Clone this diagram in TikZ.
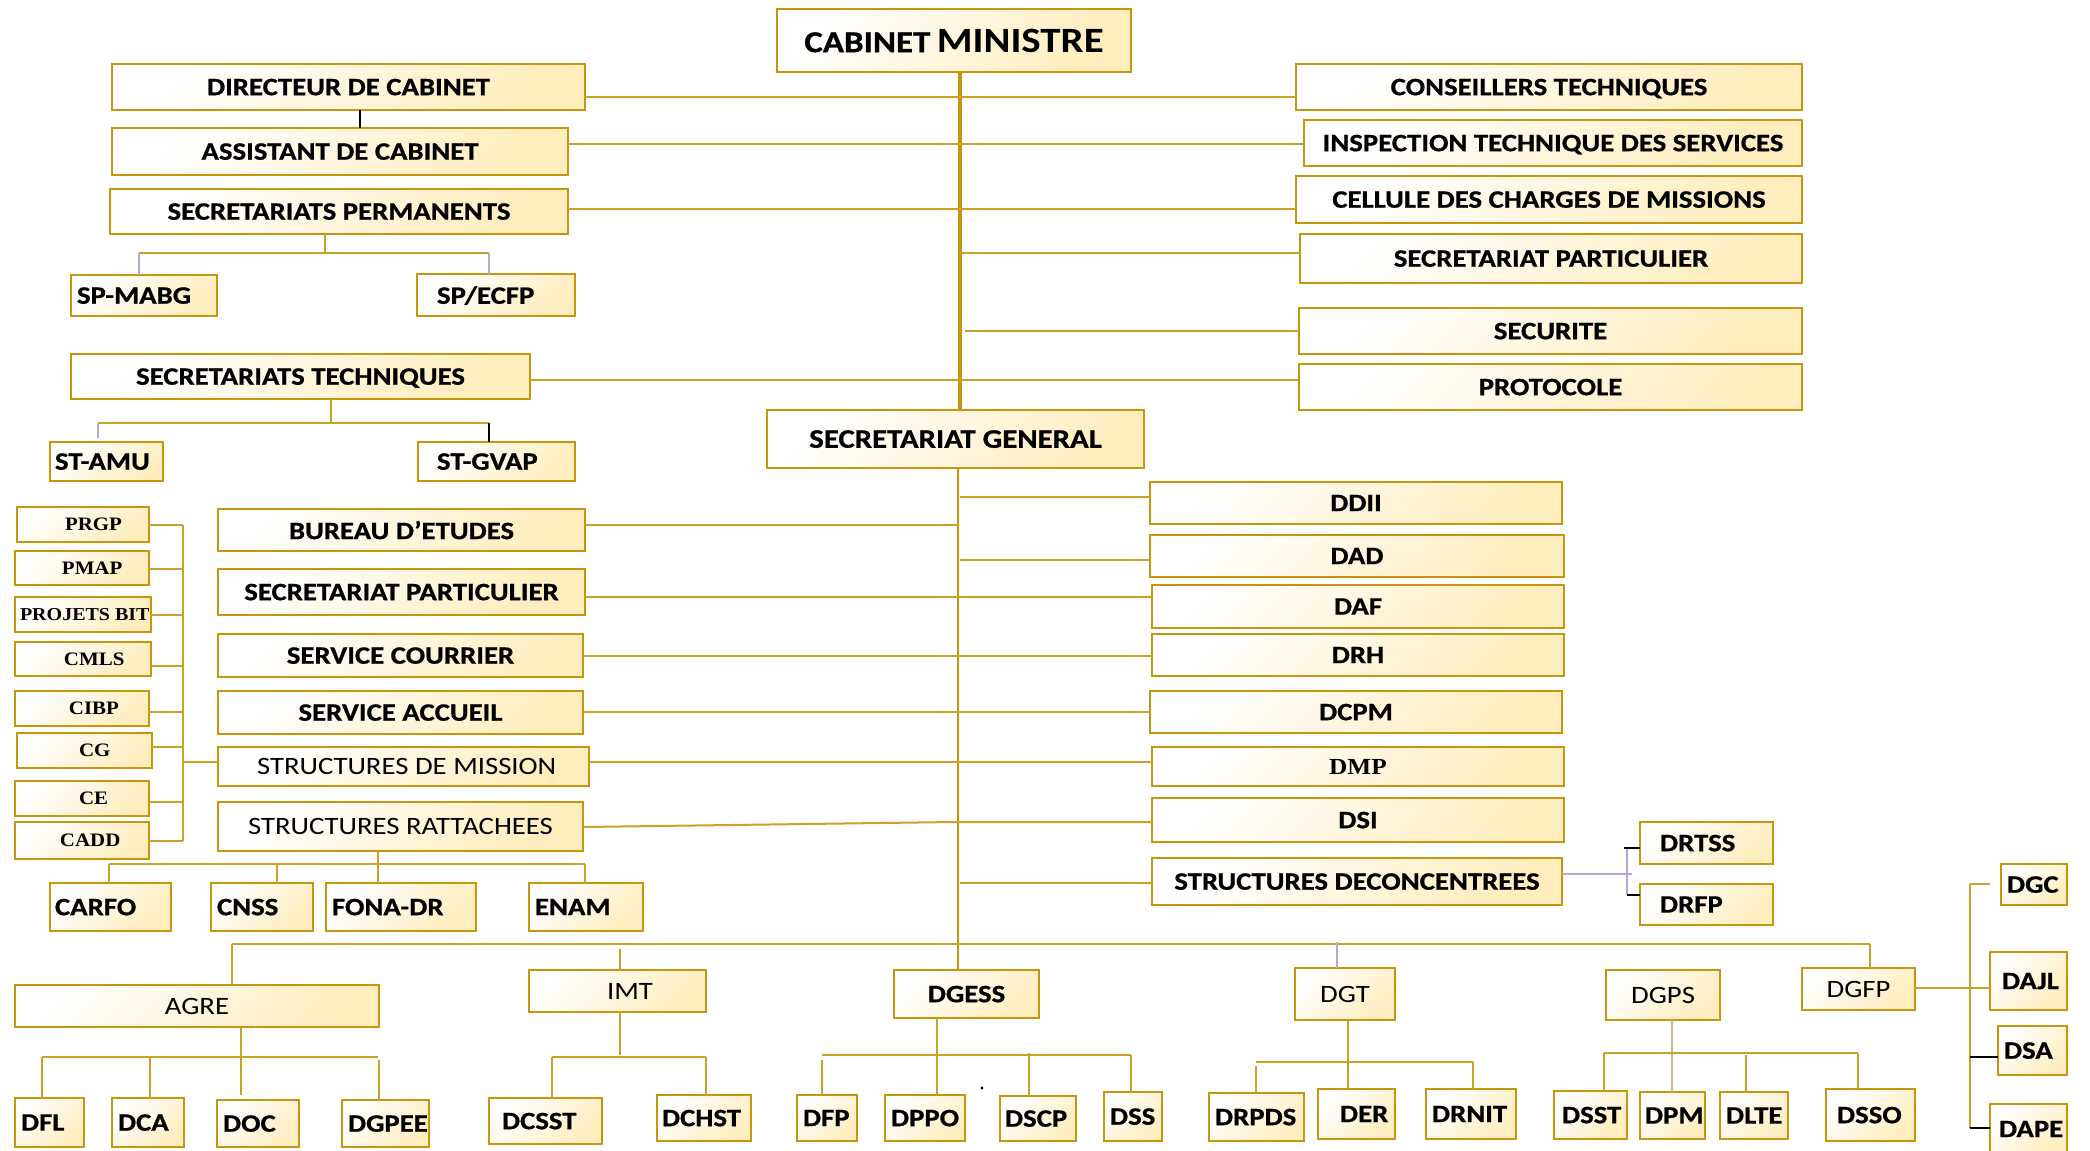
\documentclass[tikz,border=0pt]{standalone}
\usepackage{fontspec}
\usepackage{graphicx}
\newfontfamily\carB{Carlito}[FakeStretch=1.15,BoldFeatures={FakeBold=0.8}]
\newfontfamily\carM{Carlito}[FakeStretch=1.15]
\newfontfamily\serB{Liberation Serif}[FakeStretch=1.1]
\newcommand\fsz[1]{\fontsize{#1}{#1}\selectfont}
\definecolor{boxgold}{HTML}{C8960C}
\definecolor{lgold}{HTML}{C9A227}
\definecolor{boxfill}{HTML}{FFEDBE}
\definecolor{lav}{HTML}{B8A6D6}
\definecolor{tan}{HTML}{CDB98E}
\tikzset{
  box/.style={draw=boxgold, line width=1.15pt, left color=white, right color=boxfill, shading angle=45,
    inner sep=0pt, outer sep=0pt, font=\carB\bfseries\fsz{12.5}, text=black, text depth=0pt},
  regf/.style={font=\carB\mdseries\fsz{12.5}},
  serf/.style={font=\serB\bfseries\fsz{9.5}},
  ln/.style={draw=lgold, line width=1pt},
  lnA/.style={draw=lgold, line width=1.25pt},
  trunkA/.style={draw=boxgold, line width=2pt},
  trunkB/.style={draw=boxgold, line width=1.4pt},
  lavl/.style={draw=lav, line width=0.8pt},
  tanl/.style={draw=tan, line width=0.8pt},
  blk/.style={draw=black, line width=0.8pt},
}
% centred text box: [opts]{x1}{y1}{x2}{y2}{name}{text}
\newcommand\bx[7][]{%
  \pgfmathsetmacro\bxw{(#4-#2)*0.5}%
  \pgfmathsetmacro\bxh{(#5-#3)*0.5}%
  \node[box,minimum width=\bxw pt,minimum height=\bxh pt,#1] (#6) at ({(#2+#4)/2},{(#3+#5)/2}) {\makebox[0pt]{#7}};}
% text starting at x = textx: [opts]{x1}{y1}{x2}{y2}{name}{textx}{text}
\newcommand\bxl[8][]{%
  \pgfmathsetmacro\bxw{(#4-#2)*0.5}%
  \pgfmathsetmacro\bxh{(#5-#3)*0.5}%
  \pgfmathsetmacro\bxo{(#7-(#2+#4)/2)*0.5}%
  \node[box,minimum width=\bxw pt,minimum height=\bxh pt,#1] (#6) at ({(#2+#4)/2},{(#3+#5)/2}) {\makebox[0pt][l]{\hspace*{\bxo pt}#8}};}
\begin{document}
\begin{tikzpicture}[x=0.5pt,y=-0.5pt]
\useasboundingbox (0,0) rectangle (2090,1151);
\clip (0,0) rectangle (2090,1151);
\fill[white] (0,0) rectangle (2090,1151);

% ---------- top part ----------
\bx{777}{9}{1131}{72}{cab}{{\fsz{15.2}CABINET} {\carM\bfseries\fsz{17.8}MINISTRE}}
\bx{112}{64}{585}{110}{dir}{DIRECTEUR DE CABINET}
\bx{112}{128}{568}{175}{asst}{ASSISTANT DE CABINET}
\bx{110}{189}{568}{234}{sperm}{SECRETARIATS PERMANENTS}
\bxl{71}{275}{217}{316}{spmabg}{77}{SP-MABG}
\bxl{417}{274}{575}{316}{specfp}{437}{SP/ECFP}
\bx{71}{354}{530}{399}{stech}{SECRETARIATS TECHNIQUES}
\bxl{50}{442}{163}{481}{stamu}{55}{ST-AMU}
\bxl{418}{442}{575}{481}{stgvap}{437}{ST-GVAP}
\bx[font=\carB\bfseries\fsz{13.4}]{767}{410}{1144}{468}{sg}{SECRETARIAT GENERAL}
\bx{1296}{64}{1802}{110}{cons}{CONSEILLERS TECHNIQUES}
\bx{1304}{120}{1802}{166}{insp}{INSPECTION TECHNIQUE DES SERVICES}
\bx{1296}{176}{1802}{223}{cell}{CELLULE DES CHARGES DE MISSIONS}
\bx{1300}{234}{1802}{283}{spart}{SECRETARIAT PARTICULIER}
\bx{1299}{308}{1802}{354}{secu}{SECURITE}
\bx{1299}{364}{1802}{410}{prot}{PROTOCOLE}

% ---------- left column ----------
\bxl[serf]{17}{507}{149}{542}{prgp}{65}{PRGP}
\bxl[serf]{15}{551}{149}{585}{pmap}{62}{PMAP}
\bxl[serf,font=\serB\bfseries\fsz{9.1}]{15}{597}{151}{632}{projets}{20}{PROJETS BIT}
\bxl[serf]{15}{642}{151}{676}{cmls}{64}{CMLS}
\bxl[serf]{15}{691}{149}{726}{cibp}{69}{CIBP}
\bxl[serf]{17}{733}{152}{768}{cg}{79}{CG}
\bxl[serf]{15}{781}{149}{816}{ce}{79}{CE}
\bxl[serf]{15}{822}{149}{859}{cadd}{60}{CADD}
\bx{218}{509}{585}{551}{bureau}{BUREAU D’ETUDES}
\bx{218}{569}{585}{615}{spart2}{SECRETARIAT PARTICULIER}
\bx{218}{634}{583}{677}{courrier}{SERVICE COURRIER}
\bx{218}{691}{583}{734}{accueil}{SERVICE ACCUEIL}
\bxl[regf]{218}{747}{589}{786}{smission}{257}{STRUCTURES DE MISSION}
\bx[regf]{218}{802}{583}{851}{sratt}{STRUCTURES RATTACHEES}
\bxl{50}{883}{171}{931}{carfo}{55}{CARFO}
\bxl{211}{883}{313}{931}{cnss}{217}{CNSS}
\bxl{326}{883}{476}{931}{fona}{332}{FONA-DR}
\bxl{529}{883}{643}{931}{enam}{535}{ENAM}

% ---------- right column ----------
\bx{1150}{482}{1562}{524}{ddii}{DDII}
\bx{1150}{535}{1564}{577}{dad}{DAD}
\bx{1152}{585}{1564}{628}{daf}{DAF}
\bx{1152}{634}{1564}{676}{drh}{DRH}
\bx{1150}{691}{1562}{733}{dcpm}{DCPM}
\bx[font=\serB\bfseries\fsz{11.5}]{1152}{747}{1564}{786}{dmp}{DMP}
\bx{1152}{798}{1564}{842}{dsi}{DSI}
\bx{1152}{858}{1562}{905}{sdec}{STRUCTURES DECONCENTREES}
\bxl{1640}{822}{1773}{864}{drtss}{1660}{DRTSS}
\bxl{1640}{884}{1773}{925}{drfp}{1660}{DRFP}

% ---------- bottom ----------
\bx[regf]{15}{985}{379}{1027}{agre}{AGRE}
\bxl[regf]{529}{970}{706}{1012}{imt}{607}{IMT}
\bx{894}{970}{1039}{1018}{dgess}{DGESS}
\bx[regf]{1295}{968}{1395}{1020}{dgt}{DGT}
\bx[regf]{1606}{970}{1720}{1020}{dgps}{DGPS}
\bx[regf]{1802}{968}{1915}{1010}{dgfp}{DGFP}
\bxl{15}{1098}{84}{1147}{dfl}{21}{DFL}
\bxl{112}{1098}{184}{1147}{dca}{118}{DCA}
\bxl{217}{1100}{299}{1147}{doc}{223}{DOC}
\bxl{342}{1100}{429}{1147}{dgpee}{348}{DGPEE}
\bxl{489}{1098}{602}{1144}{dcsst}{502}{DCSST}
\bxl{657}{1095}{751}{1141}{dchst}{662}{DCHST}
\bxl{797}{1095}{857}{1141}{dfp}{803}{DFP}
\bxl{885}{1095}{965}{1141}{dppo}{891}{DPPO}
\bxl{1000}{1096}{1076}{1141}{dscp}{1005}{DSCP}
\bxl{1104}{1092}{1162}{1141}{dss}{1110}{DSS}
\bxl{1209}{1093}{1304}{1141}{drpds}{1215}{DRPDS}
\bxl{1318}{1089}{1395}{1139}{der}{1340}{DER}
\bxl{1426}{1089}{1516}{1139}{drnit}{1432}{DRNIT}
\bxl{1554}{1091}{1627}{1139}{dsst}{1562}{DSST}
\bxl{1640}{1092}{1705}{1139}{dpm}{1645}{DPM}
\bxl{1720}{1092}{1788}{1139}{dlte}{1726}{DLTE}
\bxl{1826}{1089}{1915}{1141}{dsso}{1837}{DSSO}
\bxl{2001}{864}{2067}{905}{dgc}{2007}{DGC}
\bxl{1990}{952}{2067}{1010}{dajl}{2002}{DAJL}
\bxl{1998}{1026}{2067}{1075}{dsa}{2004}{DSA}
\bxl{1990}{1104}{2067}{1154}{dape}{1999}{DAPE}

% ---------- connectors: upper ----------
\coordinate (tx) at (960,0);
\coordinate (tl) at (958,0);
\draw[trunkA] (cab.south -| tx) -- (sg.north -| tx);
\draw[blk] (dir.south -| 360,0) -- (asst.north -| 360,0);
\draw[lnA] (dir.east |- 0,97) -- (cons.west |- 0,97);
\draw[lnA] (asst.east |- 0,144) -- (insp.west |- 0,144);
\draw[lnA] (sperm.east |- 0,209) -- (cell.west |- 0,209);
\draw[lnA] (tx |- 0,253) -- (spart.west |- 0,253);
\coordinate (secA) at (965,331);
\draw[lnA] (secA) -- (secu.west |- secA);
\draw[lnA] (stech.east |- 0,380) -- (prot.west |- 0,380);
\draw[ln] (sperm.south -| 325,0) -- (325,253);
\draw[ln] (139,253) -- (489,253);
\draw[lavl] (139,253) -- (spmabg.north -| 139,0);
\draw[lavl] (489,253) -- (specfp.north -| 489,0);
\draw[ln] (stech.south -| 331,0) -- (331,423);
\draw[ln] (98,423) -- (489,423);
\draw[lavl] (98,423) -- (98,438);
\draw[blk] (489,423) -- (stgvap.north -| 489,0);

% ---------- connectors: middle ----------
\draw[trunkB] (sg.south -| tl) -- (dgess.north -| tl);
\draw[ln] (tx |- 0,497) -- (ddii.west |- 0,497);
\draw[ln] (bureau.east |- 0,525) -- (tl |- 0,525);
\draw[ln] (tx |- 0,560) -- (dad.west |- 0,560);
\draw[ln] (spart2.east |- 0,597) -- (daf.west |- 0,597);
\draw[ln] (courrier.east |- 0,656) -- (drh.west |- 0,656);
\draw[ln] (accueil.east |- 0,712) -- (dcpm.west |- 0,712);
\draw[ln] (smission.east |- 0,762) -- (dmp.west |- 0,762);
\draw[ln] (sratt.east |- 0,827) -- (955,822) -- (dsi.west |- 0,822);
\draw[ln] (tx |- 0,883) -- (sdec.west |- 0,883);
\draw[lavl] (sdec.east |- 0,874) -- (1632,874);
\draw[lavl] (1627,848) -- (1627,895);
\draw[blk] (1624,848) -- (drtss.west |- 0,848);
\draw[blk] (1627,895) -- (drfp.west |- 0,895);

% left bracket
\draw[ln] (183,525) -- (183,841);
\foreach \n/\yy in {prgp/525,pmap/569,projets/615,cmls/666,cibp/712,cg/747,ce/802,cadd/841}
  \draw[ln] (\n.east |- 0,\yy) -- (183,\yy);
\draw[ln] (183,762) -- (smission.west |- 0,762);

% structures rattachees
\draw[ln] (sratt.south -| 378,0) -- (378,864);
\draw[ln] (109,864) -- (585,864);
\draw[ln] (109,864) -- (carfo.north -| 109,0);
\draw[ln] (277,864) -- (cnss.north -| 277,0);
\draw[ln] (378,864) -- (fona.north -| 378,0);
\draw[ln] (585,864) -- (enam.north -| 585,0);

% ---------- connectors: bottom ----------
\draw[ln] (232,944) -- (1870,944);
\draw[ln] (232,944) -- (agre.north -| 232,0);
\draw[ln] (620,949) -- (imt.north -| 620,0);
\draw[lavl] (1337,942) -- (dgt.north -| 1337,0);
\draw[ln] (1870,944) -- (dgfp.north -| 1870,0);
% AGRE
\draw[ln] (agre.south -| 241,0) -- (241,1095);
\draw[ln] (42,1057) -- (378,1057);
\draw[ln] (42,1057) -- (dfl.north -| 42,0);
\draw[ln] (150,1057) -- (dca.north -| 150,0);
\draw[ln] (379,1060) -- (dgpee.north -| 379,0);
% IMT
\draw[ln] (imt.south -| 620,0) -- (620,1055);
\draw[ln] (552,1057) -- (706,1057);
\draw[ln] (552,1057) -- (dcsst.north -| 552,0);
\draw[ln] (706,1057) -- (dchst.north -| 706,0);
% DGESS
\draw[ln] (dgess.south -| 937,0) -- (dppo.north -| 937,0);
\draw[ln] (822,1055) -- (1131,1055);
\draw[ln] (822,1060) -- (dfp.north -| 822,0);
\draw[ln] (1029,1053) -- (dscp.north -| 1029,0);
\draw[ln] (1131,1055) -- (dss.north -| 1131,0);
\fill (982,1088) circle (0.8pt);
% DGT
\draw[ln] (dgt.south -| 1348,0) -- (der.north -| 1348,0);
\draw[ln] (1256,1062) -- (1473,1062);
\draw[ln] (1256,1066) -- (drpds.north -| 1256,0);
\draw[ln] (1473,1062) -- (drnit.north -| 1473,0);
% DGPS
\draw[tanl] (dgps.south -| 1672,0) -- (dpm.north -| 1672,0);
\draw[ln] (1604,1053) -- (1858,1053);
\draw[ln] (1604,1053) -- (dsst.north -| 1604,0);
\draw[ln] (1746,1055) -- (dlte.north -| 1746,0);
\draw[ln] (1858,1053) -- (dsso.north -| 1858,0);
% DGFP
\draw[ln] (dgfp.east |- 0,988) -- (dajl.west |- 0,988);
\draw[ln] (1970,884) -- (1970,1128);
\draw[ln] (1970,884) -- (1990,884);
\draw[blk] (1970,1057) -- (dsa.west |- 0,1057);
\draw[blk] (1970,1128) -- (dape.west |- 0,1128);
\end{tikzpicture}
\end{document}
